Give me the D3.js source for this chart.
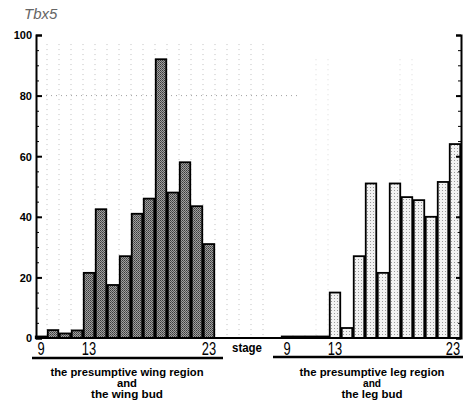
<!DOCTYPE html>
<html>
<head>
<meta charset="utf-8">
<script src="https://cdn.jsdelivr.net/npm/d3@7/dist/d3.min.js"></script>
<style>
  body { margin: 0; background: #fff; }
  svg { display: block; }
  text { font-family: "Liberation Sans", Arial, sans-serif; fill: #000; }
</style>
</head>
<body>
<svg id="chart" width="463" height="401"></svg>
<script>
// Tbx5 expression per stage, wing side and leg side

var stages = [9, 10, 11, 12, 13, 14, 15, 16, 17, 18, 19, 20, 21, 22, 23];
var wingValues = [0.5, 2.6, 1.5, 2.5, 21.5, 42.5, 17.5, 27, 41, 46, 92, 48, 58, 43.5, 31];
var legValues = [0.5, 0.5, 0.5, 0.5, 15, 3.3, 27, 51, 21.5, 51, 46.5, 45.5, 40, 51.5, 64];
var stageLabels = [9, 13, 23];
var yTicks = [0, 20, 40, 60, 80, 100];
var wingCaption = ["the presumptive wing region", "and", "the wing bud"];
var legCaption = ["the presumptive leg region", "and", "the leg bud"];

var svg = d3.select("#chart");

var y = d3.scaleLinear().domain([0, 100]).range([338, 35]);
var xL = d3.scaleBand().domain(stages).range([35, 215]).padding(0);
var xR = d3.scaleBand().domain(stages).range([281, 461]).padding(0);
var bw = xL.bandwidth();

// textures for the two bar series
var defs = svg.append("defs");
var pw = defs.append("pattern").attr("id", "wingFill")
  .attr("width", 2).attr("height", 2).attr("patternUnits", "userSpaceOnUse");
pw.append("rect").attr("width", 2).attr("height", 2).attr("fill", "#a0a0a0");
pw.append("rect").attr("width", 1).attr("height", 1).attr("fill", "#3a3a3a");
pw.append("rect").attr("x", 1).attr("y", 1).attr("width", 1).attr("height", 1).attr("fill", "#555");

var pl = defs.append("pattern").attr("id", "legFill")
  .attr("width", 3).attr("height", 3).attr("patternUnits", "userSpaceOnUse");
pl.append("rect").attr("width", 3).attr("height", 3).attr("fill", "#f2f2f2");
pl.append("rect").attr("x", 1).attr("y", 1).attr("width", 1).attr("height", 1).attr("fill", "#999");

// faint dotted grid (scanned ruling)
var grid = svg.append("g").attr("stroke", "#b0b0b0").attr("stroke-width", 0.8)
  .attr("stroke-dasharray", "1,4");
var gridX = d3.range(1, 20).map(function(k) { return xL(stages[0]) + k * xL.step(); });
grid.selectAll("line.v").data(gridX).enter().append("line")
  .attr("x1", function(d) { return d; }).attr("x2", function(d) { return d; })
  .attr("y1", y(97)).attr("y2", y(0));
var gridR = [3, 4, 10, 11].map(function(k) { return xR(stages[0]) + k * xR.step() - 1; });
grid.selectAll("line.r").data(gridR).enter().append("line")
  .attr("stroke", "#d0d0d0")
  .attr("x1", function(d) { return d; }).attr("x2", function(d) { return d; })
  .attr("y1", y(92)).attr("y2", y(0));
grid.append("line").attr("x1", 36).attr("x2", 300).attr("y1", y(80)).attr("y2", y(80))
  .attr("stroke", "#888");

// bars
function bars(cls, x, values, fill) {
  svg.append("g").selectAll("rect").data(values).enter().append("rect")
    .attr("class", cls)
    .attr("x", function(d, i) { return x(stages[i]) + 0.75; })
    .attr("width", bw - 1.5)
    .attr("y", function(d) { return y(d); })
    .attr("height", function(d) { return y(0) - y(d); })
    .attr("fill", fill)
    .attr("stroke", "#000").attr("stroke-width", 1.8);
}
bars("wing", xL, wingValues, "url(#wingFill)");
bars("leg", xR, legValues, "url(#legFill)");

// baseline
svg.append("line").attr("x1", 35).attr("x2", 462).attr("y1", y(0)).attr("y2", y(0))
  .attr("stroke", "#000").attr("stroke-width", 2);

// left axis, ticks pointing inward
var yAxis = d3.axisLeft(y).tickValues(yTicks).tickSize(-6).tickPadding(5)
  .tickFormat(d3.format("d"));
var ya = svg.append("g").attr("transform", "translate(36,0)").call(yAxis);
ya.select(".domain").attr("stroke-width", 2);
ya.selectAll(".tick line").attr("stroke-width", 2);
ya.selectAll("text").style("font-size", "11px").style("font-weight", "bold")
  .attr("dy", "0.35em").attr("x", -4).attr("text-anchor", "end");
var minor = svg.append("g").attr("transform", "translate(36,0)")
  .call(d3.axisRight(y).ticks(20).tickSize(3).tickFormat(""));
minor.select(".domain").remove();

// right axis
var ra = svg.append("g").attr("transform", "translate(461,0)")
  .call(d3.axisRight(y).tickValues(yTicks).tickSize(-5).tickFormat(""));
ra.select(".domain").attr("stroke-width", 2);
ra.selectAll(".tick line").attr("stroke-width", 2);
svg.append("g").attr("transform", "translate(461,0)")
  .call(d3.axisLeft(y).ticks(20).tickSize(3).tickFormat(""))
  .select(".domain").remove();

// stage labels (tall, condensed digits)
function stageText(x, shift) {
  svg.append("g").selectAll("text").data(stageLabels).enter().append("text")
    .attr("transform", function(d, i) {
      var cx = x(d) + bw / 2 + (i === 2 ? shift : 0);
      return "translate(" + cx + ",355) scale(0.68,1)";
    })
    .attr("text-anchor", "middle")
    .attr("font-size", 19)
    .text(function(d) { return d; });
}
stageText(xL, 0);
stageText(xR, -2);
svg.append("text").attr("x", 232).attr("y", 352).attr("font-size", 12)
  .attr("font-weight", "bold").attr("textLength", 30).attr("lengthAdjust", "spacingAndGlyphs")
  .text("stage");

// region underlines
svg.append("line").attr("x1", 32).attr("x2", 223).attr("y1", 358).attr("y2", 358)
  .attr("stroke", "#000").attr("stroke-width", 2.5);
svg.append("line").attr("x1", 273).attr("x2", 463).attr("y1", 357).attr("y2", 357)
  .attr("stroke", "#000").attr("stroke-width", 2.5);

// captions
function caption(lines, cx, lens) {
  svg.append("g").selectAll("text").data(lines).enter().append("text")
    .attr("x", cx)
    .attr("y", function(d, i) { return [376, 387, 398][i]; })
    .attr("text-anchor", "middle")
    .attr("font-size", 11)
    .attr("font-weight", "bold")
    .attr("textLength", function(d, i) { return lens[i]; })
    .attr("lengthAdjust", "spacingAndGlyphs")
    .text(function(d) { return d; });
}
caption(wingCaption, 127, [153, 20, 72]);
caption(legCaption, 372, [145, 18, 61]);

// title
svg.append("text").attr("x", 24).attr("y", 19).attr("font-size", 15)
  .attr("font-style", "italic").style("fill", "#666")
  .text("Tbx5");
</script>
</body>
</html>
